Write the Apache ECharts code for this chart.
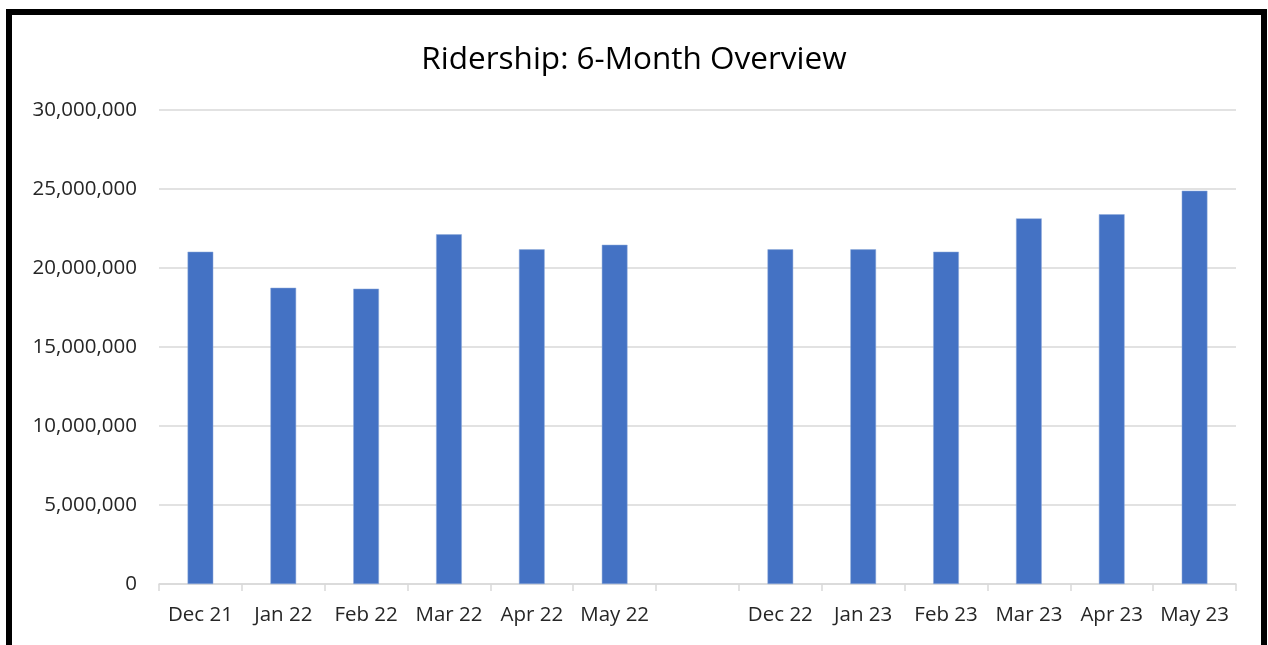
<!DOCTYPE html>
<html>
<head>
<meta charset="utf-8">
<style>
  html, body { margin: 0; padding: 0; background: #ffffff; }
  #chart { width: 1268px; height: 645px; }
</style>
<script src="https://cdn.jsdelivr.net/npm/echarts@6/dist/echarts.min.js"></script>
</head>
<body>
<div id="chart"></div>
<script>
// Monthly ridership, two six-month windows separated by an empty slot
const months = ['Dec 21', 'Jan 22', 'Feb 22', 'Mar 22', 'Apr 22', 'May 22', '',
                'Dec 22', 'Jan 23', 'Feb 23', 'Mar 23', 'Apr 23', 'May 23'];
const ridership = [21030000, 18750000, 18690000, 22130000, 21180000, 21470000, null,
                   21180000, 21180000, 21030000, 23140000, 23400000, 24890000];
const yTicks = { min: 0, max: 30000000, step: 5000000 };

const chart = echarts.init(document.getElementById('chart'), null, { renderer: 'canvas' });
const fontFamily = '"Open Sans", "Noto Sans", sans-serif';

chart.setOption({
  animation: false,
  backgroundColor: '#ffffff',
  title: {
    text: 'Ridership: 6-Month Overview',
    left: 'center',
    top: 39,
    textStyle: { fontFamily, fontSize: 31.5, fontWeight: 'normal', color: '#000000' }
  },
  graphic: [{
    type: 'rect',
    shape: { x: 9, y: 12, width: 1255, height: 660 },
    style: { fill: 'none', stroke: '#000000', lineWidth: 6 },
    silent: true
  }],
  grid: { left: 159, right: 32, top: 110, bottom: 61, containLabel: false },
  xAxis: {
    type: 'category',
    data: months,
    axisLine: { lineStyle: { color: '#d9d9d9', width: 1.5 } },
    axisTick: { show: true, interval: 0, length: 7, lineStyle: { color: '#d9d9d9', width: 1.5 } },
    axisLabel: { interval: 0, margin: 21, fontFamily, fontSize: 20.5, color: '#262626' },
    splitLine: { show: false }
  },
  yAxis: {
    type: 'value',
    min: yTicks.min,
    max: yTicks.max,
    interval: yTicks.step,
    axisLine: { show: false },
    axisTick: { show: false },
    axisLabel: {
      margin: 22, fontFamily, fontSize: 20.5, color: '#262626',
      formatter: v => v.toLocaleString('en-US')
    },
    splitLine: { lineStyle: { color: '#d9d9d9', width: 1.5 } }
  },
  series: [{
    type: 'bar',
    data: ridership.map(v => (v === null ? '-' : v)),
    barWidth: '31%',
    itemStyle: { color: '#4472c4', borderColor: '#8eaadb', borderWidth: 0.5 }
  }]
});
</script>
</body>
</html>
